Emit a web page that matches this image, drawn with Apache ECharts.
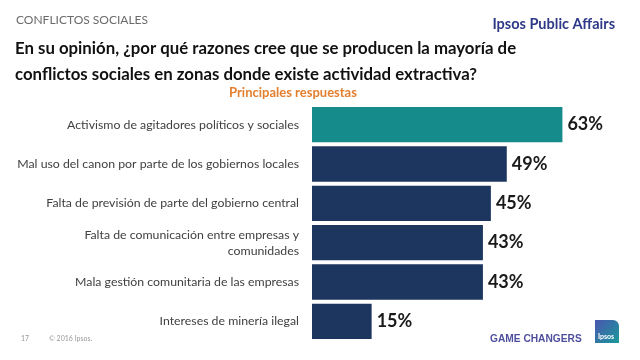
<!DOCTYPE html>
<html><head><meta charset="utf-8">
<script src="https://cdn.jsdelivr.net/npm/echarts@6/dist/echarts.min.js"></script>
<style>html,body{margin:0;padding:0;background:#fff}#c{width:640px;height:360px}</style>
</head><body><div id="c"></div>
<script>
const categories = [
  "Activismo de agitadores políticos y sociales",
  "Mal uso del canon por parte de los gobiernos locales",
  "Falta de previsión de parte del gobierno central",
  "Falta de comunicación entre empresas y\ncomunidades",
  "Mala gestión comunitaria de las empresas",
  "Intereses de minería ilegal"
];
const values = [63, 49, 45, 43, 43, 15];
const barColors = ["#168b8c", "#1c365f", "#1c365f", "#1c365f", "#1c365f", "#1c365f"];

const FONT = "Lato";
const chart = echarts.init(document.getElementById('c'), null, {renderer: 'canvas'});
chart.setOption({
  animation: false,
  backgroundColor: '#fff',
  title: [
    {text: 'CONFLICTOS SOCIALES', left: 11, top: 9, textStyle: {fontFamily: FONT, fontSize: 12, fontWeight: 'normal', color: '#6b6b6b'}},
    {text: 'Ipsos Public Affairs', right: 20, top: 12, textStyle: {fontFamily: FONT, fontSize: 14.5, fontWeight: 'bold', color: '#2e3a87'}},
    {text: 'En su opinión, ¿por qué razones cree que se producen la mayoría de\nconflictos sociales en zonas donde existe actividad extractiva?', left: 10, top: 31,
      textStyle: {fontFamily: FONT, fontSize: 16.8, fontWeight: 'bold', color: '#111', lineHeight: 26}},
    {text: 'Principales respuestas', left: 288, top: 81, textAlign: 'center', textStyle: {fontFamily: FONT, fontSize: 13, fontWeight: 'bold', color: '#e37f2e'}},
    {text: '17', left: 16, top: 330, textStyle: {fontFamily: FONT, fontSize: 7, fontWeight: 'normal', color: '#999'}},
    {text: '© 2016 Ipsos.', left: 44, top: 330, textStyle: {fontFamily: FONT, fontSize: 7, fontWeight: 'normal', color: '#999'}},
    {text: 'GAME CHANGERS', left: 485, top: 329, textStyle: {fontFamily: 'Liberation Sans', fontSize: 10.2, fontWeight: 'bold', color: '#4f4f9e'}}
  ],
  graphic: [
    {type: 'rect', shape: {x: 595, y: 320, width: 24, height: 23, r: [0, 6, 0, 0]},
      style: {fill: new echarts.graphic.LinearGradient(0, 0, 1, 1, [{offset: 0, color: '#4a56b0'}, {offset: 1, color: '#1a9a9a'}])}},
    {type: 'text', left: 598, top: 333, style: {text: 'Ipsos', fill: '#fff', font: 'bold 7px ' + FONT}}
  ],
  grid: {left: 312, right: 10, top: 105, bottom: 19, containLabel: false},
  xAxis: {type: 'value', min: 0, max: 80, show: false},
  yAxis: {type: 'category', data: categories, inverse: true,
    axisLine: {show: false}, axisTick: {show: false},
    axisLabel: {fontFamily: FONT, fontSize: 12.3, color: '#404040', margin: 13, align: 'right', lineHeight: 16}},
  series: [{
    type: 'bar', barCategoryGap: '10%',
    data: values.map((v, i) => ({value: v, itemStyle: {color: barColors[i]}})),
    label: {show: true, position: 'right', distance: 5, formatter: '{c}%',
      fontFamily: FONT, fontSize: 18, fontWeight: 'bold', color: '#1a1a1a'}
  }]
});
</script></body></html>
